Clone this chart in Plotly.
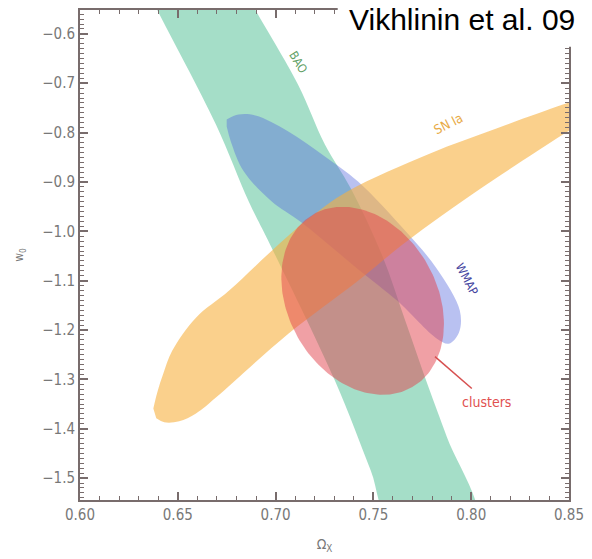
import numpy as np
import plotly.graph_objects as go

# ---------------- data (data units) ----------------
x_range = [0.60, 0.85]
y_range = [-1.5444, -0.5516]
x_tick0, x_dtick = 0.60, 0.05
y_tick0, y_dtick = -0.6, 0.1
x_minor_dtick = 0.01
y_minor_dtick = 0.01

# BAO band edges
bao_left_omega = [0.6350, 0.6395, 0.6695, 0.6862, 0.6963, 0.7303, 0.7486, 0.7587]
bao_left_w = [-0.5152, -0.5516, -0.7836, -0.9390, -1.0197, -1.3023, -1.4839, -1.5848]
bao_right_omega = [0.6847, 0.6897, 0.7115, 0.7252, 0.7384, 0.7546, 0.7663, 0.7775, 0.7876, 0.8023]
bao_right_w = [-0.5152, -0.5516, -0.7029, -0.8240, -0.9128, -1.0500, -1.1812, -1.3083, -1.4173, -1.5848]

# WMAP contour
wmap_omega = [0.6750, 0.6811, 0.6897, 0.7065, 0.7252, 0.7420, 0.7673, 0.7825, 0.7942, 0.7937,
              0.7886, 0.7825, 0.7622, 0.7420, 0.7131, 0.6979, 0.6837, 0.6771, 0.6750]
wmap_w = [-0.7735, -0.7635, -0.7655, -0.7978, -0.8482, -0.8987, -1.0036, -1.0762, -1.1610, -1.2054,
          -1.2276, -1.2175, -1.1408, -1.0762, -0.9814, -0.9390, -0.8785, -0.8179, -0.7877]

# SN Ia contour
sn_omega = [0.6375, 0.6395, 0.6426, 0.6472, 0.6593, 0.6761, 0.6979, 0.7166, 0.7369, 0.7790,
            0.8129, 0.8469, 0.8636, 0.8697, 0.8636, 0.8469, 0.8013, 0.7673, 0.7420, 0.7065,
            0.6695, 0.6593, 0.6507, 0.6431, 0.6390]
sn_w = [-1.3588, -1.3264, -1.2882, -1.2417, -1.1751, -1.1206, -1.0399, -0.9753, -0.9188, -0.8422,
        -0.7917, -0.7433, -0.7211, -0.7372, -0.7614, -0.8038, -0.9229, -1.0197, -1.1005, -1.2074,
        -1.3366, -1.3689, -1.3850, -1.3870, -1.3790]

# clusters ellipse: centre and two conjugate semi-axis vectors (Omega, w)
cl_center = (0.7445, -1.1408)
cl_axis1 = (0.0254, -0.1748)
cl_axis2 = (-0.0329, -0.0757)

labels = {
    "BAO": (0.7115, -0.6565),
    "SN Ia": (0.7886, -0.7816),
    "WMAP": (0.7977, -1.0964),
    "clusters": (0.8079, -1.3467),
}
pointer_omega = [0.7815, 0.8003]
pointer_w = [-1.2538, -1.3184]
title_text = "Vikhlinin et al. 09"

# ---------------- figure ----------------
t = np.linspace(0, 2 * np.pi, 200)
cl_x = cl_center[0] + np.cos(t) * cl_axis1[0] + np.sin(t) * cl_axis2[0]
cl_y = cl_center[1] + np.cos(t) * cl_axis1[1] + np.sin(t) * cl_axis2[1]

fig = go.Figure()
fig.add_trace(go.Scatter(
    x=bao_left_omega + bao_right_omega[::-1], y=bao_left_w + bao_right_w[::-1],
    fill="toself", mode="lines", line=dict(width=0, shape="spline"),
    fillcolor="rgba(105,200,163,0.6)", hoverinfo="skip", showlegend=False))
fig.add_trace(go.Scatter(
    x=wmap_omega, y=wmap_w, fill="toself", mode="lines",
    line=dict(width=0, shape="spline"),
    fillcolor="rgba(80,100,220,0.4)", hoverinfo="skip", showlegend=False))
fig.add_trace(go.Scatter(
    x=sn_omega, y=sn_w, fill="toself", mode="lines",
    line=dict(width=0, shape="spline"),
    fillcolor="rgba(247,177,63,0.6)", hoverinfo="skip", showlegend=False))
fig.add_trace(go.Scatter(
    x=cl_x, y=cl_y, fill="toself", mode="lines", line=dict(width=0),
    fillcolor="rgba(225,65,75,0.5)", hoverinfo="skip", showlegend=False))
fig.add_trace(go.Scatter(
    x=pointer_omega, y=pointer_w, mode="lines",
    line=dict(width=1.5, color="rgb(215,80,80)"), hoverinfo="skip", showlegend=False))

label_styles = {
    "BAO": dict(color="rgb(95,160,100)", angle=58, size=12),
    "SN Ia": dict(color="rgb(232,170,70)", angle=-27, size=13),
    "WMAP": dict(color="rgb(70,70,160)", angle=62, size=12),
    "clusters": dict(color="rgb(225,80,80)", angle=0, size=14),
}
for name, (lx, ly) in labels.items():
    st = label_styles[name]
    fig.add_annotation(x=lx, y=ly, text=name, showarrow=False, textangle=st["angle"],
                       font=dict(family="DejaVu Sans Condensed, Liberation Sans Narrow, sans-serif",
                                 size=st["size"], color=st["color"]))

# white box behind the title
fig.add_shape(type="rect", xref="paper", yref="paper", x0=0.527, x1=1.1, y0=0.925, y1=1.1,
              fillcolor="white", line=dict(width=0), layer="above")
fig.add_annotation(xref="paper", yref="paper", x=0.781, y=0.98, text=title_text,
                   showarrow=False, xanchor="center", yanchor="middle",
                   font=dict(family="Liberation Sans, Arial, sans-serif", size=30, color="black"))

axis_col = "rgb(120,108,108)"
tick_font = dict(family="DejaVu Sans Condensed, Liberation Sans Narrow, sans-serif",
                 size=15, color="rgb(120,120,120)")
title_font = dict(family="DejaVu Sans Condensed, sans-serif", color="rgb(120,120,120)")

fig.update_xaxes(range=x_range, tickmode="linear", tick0=x_tick0, dtick=x_dtick, tickformat=".2f",
                 showline=True, linecolor=axis_col, linewidth=2, mirror="allticks",
                 ticks="inside", ticklen=8, tickwidth=1.5, tickcolor=axis_col,
                 showgrid=False, zeroline=False, tickfont=tick_font,
                 minor=dict(ticks="inside", ticklen=4, tickwidth=1, tickcolor=axis_col,
                            dtick=x_minor_dtick, showgrid=False),
                 title=dict(text="Ω<sub>X</sub>", standoff=16, font=dict(size=14, **title_font)))
fig.update_yaxes(range=y_range, tickmode="linear", tick0=y_tick0, dtick=y_dtick, tickformat=".1f",
                 showline=True, linecolor=axis_col, linewidth=2, mirror="allticks",
                 ticks="inside", ticklen=8, tickwidth=1.5, tickcolor=axis_col,
                 showgrid=False, zeroline=False, tickfont=tick_font,
                 minor=dict(ticks="inside", ticklen=4, tickwidth=1, tickcolor=axis_col,
                            dtick=y_minor_dtick, showgrid=False),
                 title=dict(text="w<sub>0</sub>", standoff=16, font=dict(size=12, **title_font)))

fig.update_layout(width=592, height=559, margin=dict(l=80, r=19, t=8, b=59),
                  plot_bgcolor="white", paper_bgcolor="white")

fig.write_html("out.html")
